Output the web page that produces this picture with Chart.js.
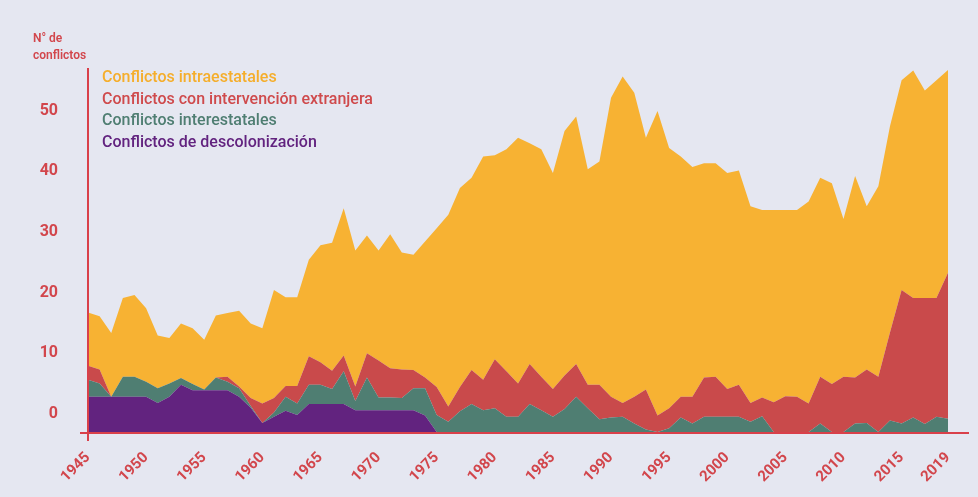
<!DOCTYPE html>
<html lang="es">
<head>
  <meta charset="UTF-8" />
  <title>Conflictos 1945-2019</title>
  <script src="https://cdn.jsdelivr.net/npm/chart.js"></script>
  <style>
    html, body { margin: 0; padding: 0; background: #e5e7f1; }
    #chart { display: block; }
  </style>
</head>
<body>
  <canvas id="chart" width="978" height="497"></canvas>
  <script>
    // años 1945-2019
    const years = Array.from({ length: 75 }, (_, i) => 1945 + i);
    const xTicks = [1945, 1950, 1955, 1960, 1965, 1970, 1975, 1980, 1985, 1990, 1995, 2000, 2005, 2010, 2015, 2019];
    const yTicks = [0, 10, 20, 30, 40, 50];

    const descolonizacion = [
      5.8, 5.8, 5.8, 5.8, 5.8, 5.8, 4.8, 5.8, 7.8, 6.9,
      6.9, 6.9, 6.9, 5.8, 4.0, 1.5, 2.5, 3.5, 2.8, 4.6,
      4.6, 4.6, 4.6, 3.6, 3.6, 3.6, 3.6, 3.6, 3.6, 2.7,
      0, 0, 0, 0, 0, 0, 0, 0, 0, 0,
      0, 0, 0, 0, 0, 0, 0, 0, 0, 0,
      0, 0, 0, 0, 0, 0, 0, 0, 0, 0,
      0, 0, 0, 0, 0, 0, 0, 0, 0, 0,
      0, 0, 0, 0, 0
    ];
    const interestatales = [
      2.8, 2.2, 0, 3.3, 3.3, 2.5, 2.4, 2.2, 1.1, 1.0,
      0.1, 2.1, 1.4, 1.4, 0.3, 0, 0.7, 2.3, 1.9, 3.2,
      3.2, 2.5, 5.4, 1.5, 5.4, 2.1, 2.1, 2.0, 3.6, 4.5,
      2.8, 1.7, 3.4, 4.6, 3.6, 3.9, 2.5, 2.5, 4.6, 3.6,
      2.5, 3.8, 5.8, 3.9, 2.1, 2.4, 2.5, 1.4, 0.4, 0,
      0.6, 2.4, 1.4, 2.5, 2.5, 2.5, 2.5, 1.7, 2.6, 0,
      0, 0, 0, 1.4, 0, 0, 1.4, 1.5, 0, 1.9,
      1.4, 2.4, 1.3, 2.5, 2.2
    ];
    const intervencion = [
      2.3, 2.3, 0, 0, 0, 0, 0, 0, 0, 0,
      0, 0, 0.8, 0.3, 1.3, 3.2, 2.4, 1.8, 2.9, 4.7,
      3.7, 3.0, 2.6, 2.4, 4.0, 6.1, 4.8, 4.7, 3.0, 1.8,
      4.6, 2.5, 4.0, 5.6, 5.0, 8.1, 7.5, 5.5, 6.6, 5.5,
      4.6, 5.5, 5.4, 3.9, 5.7, 3.4, 2.3, 4.4, 6.6, 2.7,
      3.3, 3.4, 4.4, 6.5, 6.6, 4.6, 5.3, 3.1, 3.1, 4.9,
      5.9, 5.8, 4.7, 7.7, 7.9, 9.1, 7.6, 8.8, 9.1, 14.5,
      22.0, 19.7, 20.8, 19.6, 24.1
    ];
    const intraestatales = [
      8.8, 8.8, 10.5, 13.0, 13.5, 12.1, 8.7, 7.5, 9.0, 9.2,
      8.2, 10.2, 10.5, 12.5, 12.3, 12.4, 17.8, 14.6, 14.6, 15.9,
      19.3, 21.1, 24.3, 22.4, 19.4, 18.1, 22.1, 19.3, 19.0, 22.4,
      26.2, 31.6, 32.8, 31.7, 36.8, 33.6, 36.6, 40.5, 36.4, 37.5,
      35.6, 40.3, 40.8, 35.5, 36.8, 49.3, 53.8, 50.1, 41.5, 50.2,
      42.9, 39.6, 37.9, 35.3, 35.2, 35.6, 35.3, 32.4, 30.9, 31.7,
      30.7, 30.8, 33.3, 32.8, 33.1, 26.0, 33.2, 26.9, 31.4, 34.0,
      34.6, 37.5, 34.2, 35.9, 33.4
    ];

    const RED_TEXT = '#d2464c';
    const FONT = 'Roboto, "Noto Sans", sans-serif';

    const toPoints = arr => arr.map((v, i) => ({ x: years[i], y: v }));

    const decor = {
      id: 'decor',
      beforeDraw(chart) {
        const c = chart.ctx;
        c.save();
        c.fillStyle = '#e5e7f1';
        c.fillRect(0, 0, chart.width, chart.height);
        c.restore();
      },
      afterDraw(chart) {
        const c = chart.ctx;
        const a = chart.chartArea;
        c.save();
        // ejes
        c.strokeStyle = '#d9404a';
        c.lineWidth = 2;
        c.beginPath();
        c.moveTo(a.left, a.top);
        c.lineTo(a.left, a.bottom + 9);
        c.moveTo(a.left - 8, a.bottom + 1);
        c.lineTo(a.right, a.bottom + 1);
        c.stroke();
        // titulo eje y
        c.fillStyle = RED_TEXT;
        c.font = '600 12px ' + FONT;
        c.textAlign = 'left';
        c.textBaseline = 'middle';
        c.fillText('N° de', 33, 39);
        c.fillText('conflictos', 33, 56);
        // leyenda
        c.font = '500 16px ' + FONT;
        const items = chart.data.datasets.slice().reverse();
        items.forEach((ds, i) => {
          c.fillStyle = ds.textColor;
          c.fillText(ds.label, 102, 78 + i * 21.5);
        });
        c.restore();
      }
    };

    new Chart(document.getElementById('chart'), {
      type: 'line',
      data: {
        datasets: [
          { label: 'Conflictos de descolonización', data: toPoints(descolonizacion), backgroundColor: '#62237f', textColor: '#62237f', fill: 'origin' },
          { label: 'Conflictos interestatales', data: toPoints(interestatales), backgroundColor: '#4f7e72', textColor: '#4f7e72', fill: '-1' },
          { label: 'Conflictos con intervención extranjera', data: toPoints(intervencion), backgroundColor: '#c94a4b', textColor: '#cf4a4c', fill: '-1' },
          { label: 'Conflictos intraestatales', data: toPoints(intraestatales), backgroundColor: '#f7b233', textColor: '#f5ae2c', fill: '-1' }
        ]
      },
      options: {
        responsive: false,
        animation: false,
        devicePixelRatio: 1,
        elements: {
          line: { borderWidth: 0, tension: 0 },
          point: { radius: 0 }
        },
        layout: { padding: { left: 0, right: 8, top: 68, bottom: 0 } },
        plugins: {
          legend: { display: false },
          title: { display: false },
          tooltip: { enabled: false }
        },
        scales: {
          x: {
            type: 'linear',
            min: 1945,
            max: 2020.8,
            afterBuildTicks: s => { s.ticks = xTicks.map(v => ({ value: v })); },
            afterFit: s => { s.height = 65; },
            grid: { display: false, drawTicks: false },
            border: { display: false },
            ticks: {
              autoSkip: false,
              minRotation: 45,
              maxRotation: 45,
              padding: 17,
              color: RED_TEXT,
              font: { family: FONT, size: 15, weight: 'bold' },
              callback: v => String(v)
            }
          },
          y: {
            stacked: true,
            min: 0,
            max: 60,
            afterBuildTicks: s => { s.ticks = yTicks.map(v => ({ value: v })); },
            afterFit: s => { s.width = 88; },
            grid: { display: false, drawTicks: false },
            border: { display: false },
            ticks: {
              padding: 30,
              labelOffset: -18,
              color: RED_TEXT,
              font: { family: FONT, size: 16, weight: 'bold' }
            }
          }
        }
      },
      plugins: [decor]
    });
  </script>
</body>
</html>
